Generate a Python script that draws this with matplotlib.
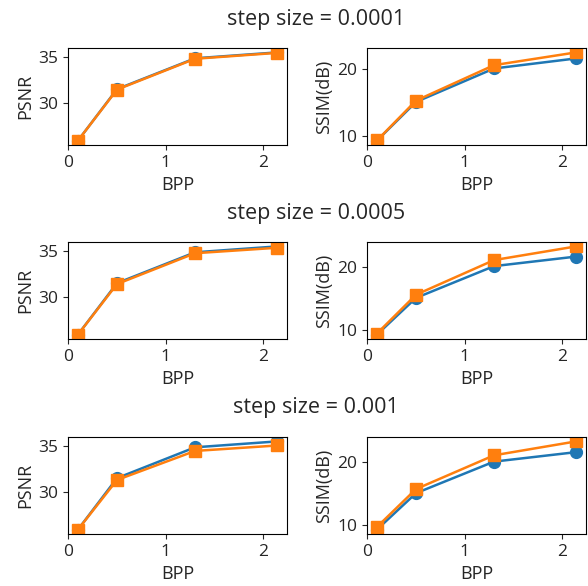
import numpy as np
import matplotlib
matplotlib.use("Agg")
import matplotlib.pyplot as plt

plt.rcParams['font.family'] = ['Open Sans', 'DejaVu Sans']
plt.rcParams['font.size'] = 13
plt.rcParams['text.color'] = '#262626'
plt.rcParams['axes.labelcolor'] = '#262626'
plt.rcParams['xtick.color'] = '#262626'
plt.rcParams['ytick.color'] = '#262626'

bpp = [0.1, 0.5, 1.3, 2.14]
step_sizes = ['0.0001', '0.0005', '0.001']

# baseline (blue)
psnr_base = [25.83, 31.5, 34.9, 35.55]
ssim_base = [9.33, 15.1, 20.1, 21.6]

# per step size (orange)
psnr_step = [
    [25.83, 31.45, 34.85, 35.5],
    [25.83, 31.4, 34.8, 35.4],
    [25.83, 31.3, 34.5, 35.1],
]
ssim_step = [
    [9.35, 15.3, 20.6, 22.5],
    [9.5, 15.6, 21.05, 23.2],
    [9.75, 15.75, 21.1, 23.3],
]

fig = plt.figure(figsize=(5.88, 5.86), dpi=100)

W, H = 588, 586
row_top = [48, 242, 437]
ax_h = 97
title_y = [19, 213, 407]

for i in range(3):
    bottom = (H - row_top[i] - ax_h) / H
    ax1 = fig.add_axes([68 / W, bottom, 219 / W, ax_h / H])
    ax2 = fig.add_axes([367 / W, bottom, 219 / W, ax_h / H])

    ax1.plot(bpp, psnr_base, marker='o', color='#1f77b4', lw=1.8, ms=8.5)
    ax1.plot(bpp, psnr_step[i], marker='s', color='#ff7f0e', lw=1.8, ms=8.5)
    ax1.set_xlabel('BPP', fontsize=13)
    ax1.set_ylabel('PSNR', fontsize=13, labelpad=3)
    ax1.set_yticks([30, 35])

    ax2.plot(bpp, ssim_base, marker='o', color='#1f77b4', lw=1.8, ms=8.5)
    ax2.plot(bpp, ssim_step[i], marker='s', color='#ff7f0e', lw=1.8, ms=8.5)
    ax2.set_xlabel('BPP', fontsize=13)
    ax2.set_ylabel('SSIM(dB)', fontsize=13, labelpad=3)
    ax2.set_yticks([10, 20])

    for ax in (ax1, ax2):
        ax.set_xticks([0, 1, 2])
        ax.tick_params(labelsize=12.5)

    fig.text(316 / W, 1 - title_y[i] / H, 'step size = ' + step_sizes[i],
             ha='center', va='center', fontsize=15.5)

fig.savefig('out.png', dpi=100)
